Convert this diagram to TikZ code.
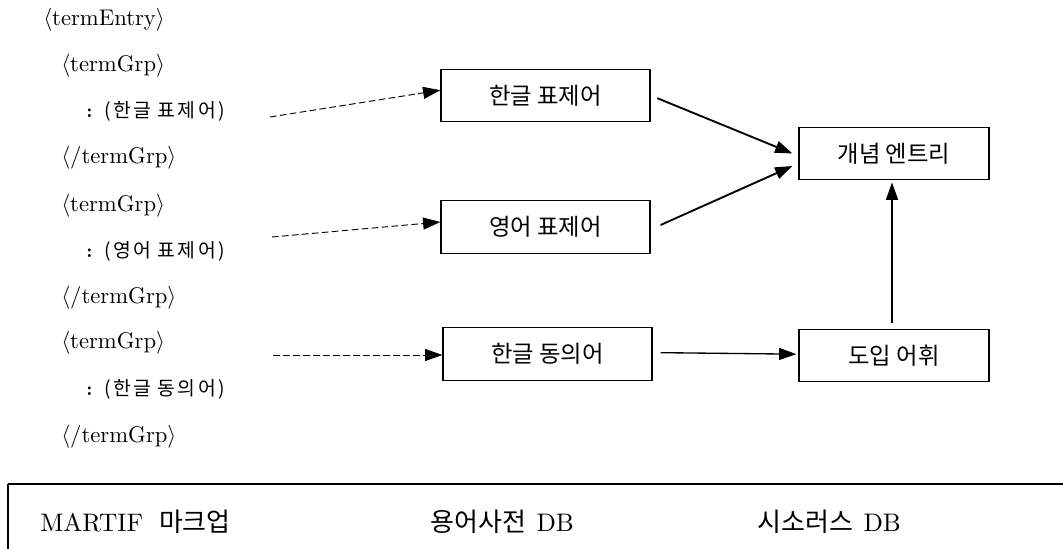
\documentclass[tikz,border=0pt]{standalone}
\usepackage{fontspec}
\setmainfont{lmroman10-regular.otf}[BoldFont=lmroman10-bold.otf]
\newfontfamily\kr{Noto Sans CJK KR}
\newfontfamily\krs[LetterSpace=12]{Noto Sans CJK KR}
\usetikzlibrary{arrows.meta}
\begin{document}
\begin{tikzpicture}[x=0.75pt,y=-0.75pt,
  tag/.style={anchor=west, inner sep=0pt, font=\fontsize{17}{20}\selectfont},
  sub/.style={anchor=west, inner sep=0pt, font=\krs\fontsize{14.5}{17}\selectfont},
  box/.style={draw, line width=0.9pt, minimum width=#1*0.75pt, minimum height=39.5pt,
              inner sep=0pt, font=\kr\fontsize{17.5}{20}\selectfont},
  arr/.style={-{Triangle[length=13pt,width=9pt]}},
  dsh/.style={arr, line width=0.7pt, dash pattern=on 5pt off 2.5pt},
  sld/.style={arr, line width=1.4pt},
  sld2/.style={arr, line width=1pt},
  btxt/.style={anchor=west, inner sep=0pt, font=\fontsize{19}{23}\selectfont},
  bkr/.style={}]
\useasboundingbox (0,0) rectangle (1063,549);
\clip (0,0) rectangle (1063,549);
% left column
\node[tag] (te) at (43,20) {$\langle$termEntry$\rangle$};
\node[tag] (g1) at (61,66) {$\langle$termGrp$\rangle$};
\node[sub] (k1) at (86,111) {{\rmfamily\bfseries :}\hspace{9pt}(한글 표제어)};
\node[tag] (e1) at (61,158) {$\langle$/termGrp$\rangle$};
\node[tag] (g2) at (61,206) {$\langle$termGrp$\rangle$};
\node[sub] (k2) at (86,251) {{\rmfamily\bfseries :}\hspace{9pt}(영어 표제어)};
\node[tag] (e2) at (61,298) {$\langle$/termGrp$\rangle$};
\node[tag] (g3) at (61,343) {$\langle$termGrp$\rangle$};
\node[sub] (k3) at (86,389) {{\rmfamily\bfseries :}\hspace{9pt}(한글 동의어)};
\node[tag] (e3) at (61,437) {$\langle$/termGrp$\rangle$};
% boxes
\node[box=209] (b1) at (545.5,95.5) {한글 표제어};
\node[box=209] (b2) at (545.5,227) {영어 표제어};
\node[box=209] (b3) at (547.5,354) {한글 동의어};
\node[box=190] (b4) at (894,153.5) {개념 엔트리};
\node[box=190] (b5) at (894,355.5) {도입 어휘};
% dashed arrows
\coordinate (d1) at (270,117);
\coordinate (d2) at (272,237);
\coordinate (d3) at (273,355);
\draw[dsh] (d1) -- ([yshift=4pt]b1.west);
\draw[dsh] (d2) -- ([yshift=3.75pt]b2.west);
\draw[dsh] (d3) -- (d3 -| b3.west);
% solid arrows
\draw[sld] ([xshift=5pt,yshift=-2pt]b1.east) -- ([xshift=-4.5pt]b4.west);
\draw[sld] ([xshift=7.5pt,yshift=1.5pt]b2.east) -- ([xshift=-4.5pt,yshift=-9.4pt]b4.west);
\draw[sld2] ([xshift=6pt,yshift=1pt]b3.east) -- ([xshift=-1.5pt,yshift=1pt]b5.west);
\draw[sld2] ([xshift=-1.5pt,yshift=4.5pt]b5.north) -- ([xshift=-1.5pt,yshift=-1.5pt]b4.south);
% bottom frame
\draw[line width=0.8pt] (8,600) -- (8,484);
\draw[line width=1.5pt] (8,484) -- (1080,484);
\node[btxt] (m) at (40,522) {MARTIF\hspace{12pt}{\kr\fontsize{19.5}{22}\selectfont 마크업}};
\node[btxt] (t) at (430,522) {{\kr\fontsize{19.5}{22}\selectfont 용어사전}\hspace{8pt}DB};
\node[btxt] (s) at (757,522) {{\kr\fontsize{19.5}{22}\selectfont 시소러스}\hspace{8pt}DB};
\end{tikzpicture}
\end{document}
